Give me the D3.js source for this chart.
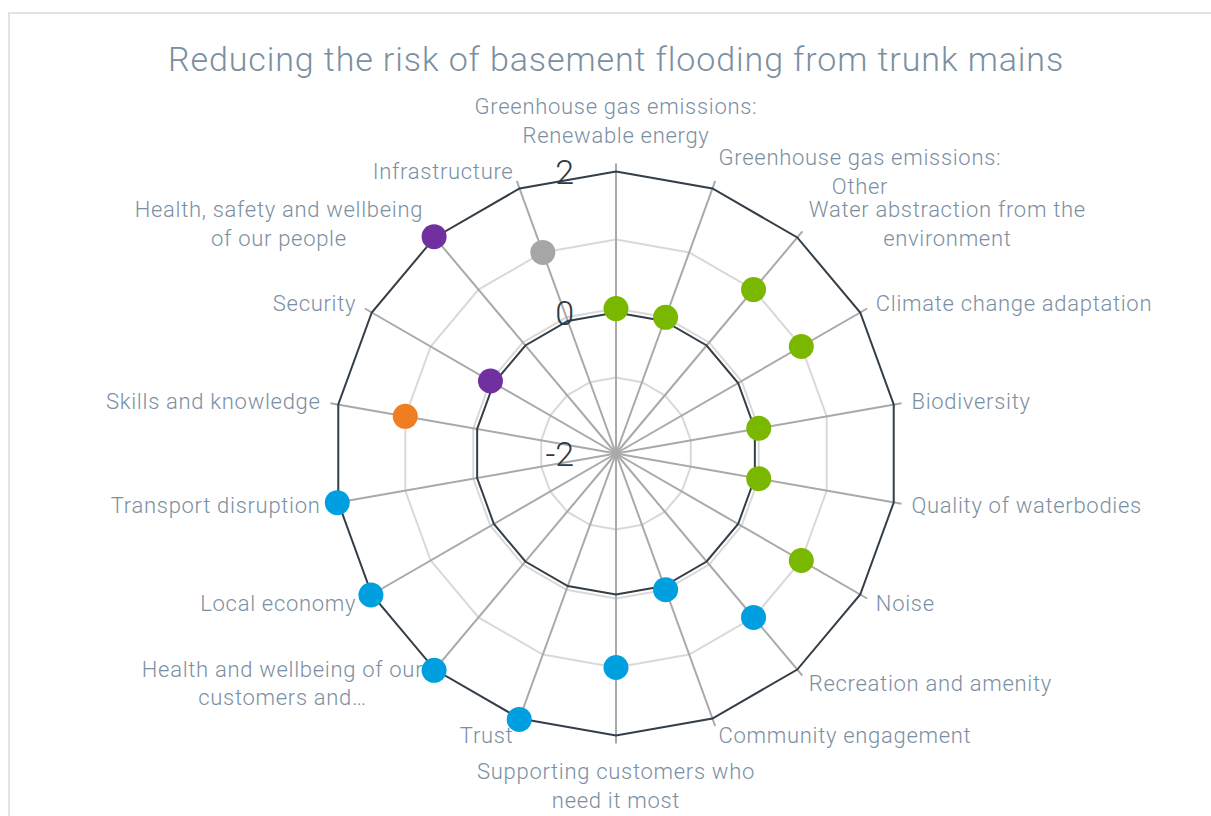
<!DOCTYPE html>
<html>
<head>
<meta charset="utf-8">
<script src="https://cdn.jsdelivr.net/npm/d3@7"></script>
<style>
  html, body { margin: 0; padding: 0; background: #ffffff; }
  svg { display: block; font-family: Roboto, "Liberation Sans", sans-serif; }
</style>
</head>
<body>
<svg id="chart" width="1211" height="816"></svg>
<script>
// Category labels, clockwise from the top (already wrapped into lines)
const categories = [
  ["Greenhouse gas emissions:", "Renewable energy"],
  ["Greenhouse gas emissions:", "Other"],
  ["Water abstraction from the", "environment"],
  ["Climate change adaptation"],
  ["Biodiversity"],
  ["Quality of waterbodies"],
  ["Noise"],
  ["Recreation and amenity"],
  ["Community engagement"],
  ["Supporting customers who", "need it most"],
  ["Trust"],
  ["Health and wellbeing of our", "customers and…"],
  ["Local economy"],
  ["Transport disruption"],
  ["Skills and knowledge"],
  ["Security"],
  ["Health, safety and wellbeing", "of our people"],
  ["Infrastructure"]
];

// Score for each category (-2 .. 2)
const scores = [0, 0, 1, 1, 0, 0, 1, 1, 0, 1, 2, 2, 2, 2, 1, 0, 2, 1];

// Capital group of each category (sets the marker colour)
const capitals = [
  "Natural", "Natural", "Natural", "Natural", "Natural", "Natural", "Natural",
  "Social", "Social", "Social", "Social", "Social", "Social", "Social",
  "Intellectual", "Human", "Human", "Manufactured"
];
const capitalNames = ["Natural", "Social", "Intellectual", "Human", "Manufactured"];
const capitalColors = ["#7ab800", "#009fdf", "#ef7d22", "#7030a0", "#a6a6a6"];

// Radial axis ticks
const tickValues = [-2, 0, 2];
const tickLabels = ["-2", "0", "2"];
// Score levels marked with light rings
const scoreLevels = [-1, 0, 1];

const svg = d3.select("#chart");
const W = 1211, H = 816;
const cx = 616, cy = 453.5, R = 282;
const n = categories.length;

const angle = d3.scaleLinear().domain([0, n]).range([0, 2 * Math.PI]);
const rAxis = d3.scaleLinear().domain([-2, 2]).range([0, R]);
const rScore = d3.scaleLinear().domain([-2.1, 2]).range([0, R + 1]);
const color = d3.scaleOrdinal().domain(capitalNames).range(capitalColors);

// Frame
svg.append("rect")
  .attr("x", 9).attr("y", 13)
  .attr("width", W + 20).attr("height", H + 20)
  .attr("fill", "none")
  .attr("stroke", "#dfe4e9")
  .attr("stroke-width", 2);

// Title
svg.append("text")
  .attr("x", cx).attr("y", 71)
  .attr("text-anchor", "middle")
  .attr("font-size", 34)
  .attr("font-weight", 300)
  .attr("letter-spacing", 0.9)
  .attr("fill", "#7b8fa2")
  .text("Reducing the risk of basement flooding from trunk mains");

const g = svg.append("g").attr("transform", `translate(${cx},${cy})`);

const ring = (rad) => d3.lineRadial()
  .angle((d, i) => angle(i))
  .radius(() => rad)
  .curve(d3.curveLinearClosed)(d3.range(n));

// Light rings at score levels
g.selectAll("path.level")
  .data(scoreLevels)
  .join("path")
  .attr("class", "level")
  .attr("d", d => ring(rScore(d)))
  .attr("fill", "none")
  .attr("stroke", "#d9d9d9")
  .attr("stroke-width", 2);

// Spokes
g.selectAll("line.spoke")
  .data(d3.range(n))
  .join("line")
  .attr("class", "spoke")
  .attr("x1", 0).attr("y1", 0)
  .attr("x2", i => Math.sin(angle(i)) * (R + 8))
  .attr("y2", i => -Math.cos(angle(i)) * (R + 8))
  .attr("stroke", "#a9a9a9")
  .attr("stroke-width", 2);

// Dark rings at axis ticks
g.selectAll("path.tick")
  .data(tickValues.filter(v => v > -2))
  .join("path")
  .attr("class", "tick")
  .attr("d", d => ring(rAxis(d)))
  .attr("fill", "none")
  .attr("stroke", "#333e48")
  .attr("stroke-width", 2);

// Axis tick labels along the top spoke
g.selectAll("text.tick-label")
  .data(tickValues)
  .join("text")
  .attr("class", "tick-label")
  .attr("x", -42)
  .attr("y", d => -rAxis(d))
  .attr("dy", "0.36em")
  .attr("text-anchor", "end")
  .attr("font-size", 34)
  .attr("font-weight", 300)
  .attr("fill", "#2e3a44")
  .text((d, i) => tickLabels[i]);

// Category labels
const LR = R + 18, lineH = 28.5;
categories.forEach((lines, i) => {
  const a = angle(i);
  const deg = Math.round(a * 180 / Math.PI) % 360;
  const lx = Math.sin(a) * LR, ly = -Math.cos(a) * LR;
  const t = g.append("text")
    .attr("font-size", 22)
    .attr("font-weight", 300)
    .attr("letter-spacing", 0.7)
    .attr("fill", "#7b8fa2")
    .attr("text-anchor", "middle");
  const spans = lines.map(s => t.append("tspan").text(s));
  const w = d3.max(spans, s => s.node().getComputedTextLength());
  let bx = lx;
  if (deg > 0 && deg < 180) bx = lx + w / 2;
  else if (deg > 180) bx = lx - w / 2;
  let y0;
  if (deg === 0) y0 = ly - 4 - lineH / 2 - (lines.length - 1) * lineH;
  else if (deg === 180) y0 = ly + 4 + lineH / 2;
  else y0 = ly - (lines.length - 1) * lineH / 2;
  spans.forEach((s, k) => s.attr("x", bx).attr("y", y0 + k * lineH).attr("dy", "0.35em"));
});

// Score markers
g.selectAll("circle.score")
  .data(scores)
  .join("circle")
  .attr("class", "score")
  .attr("cx", (d, i) => Math.sin(angle(i)) * rScore(d))
  .attr("cy", (d, i) => -Math.cos(angle(i)) * rScore(d))
  .attr("r", 12.5)
  .attr("fill", (d, i) => color(capitals[i]));
</script>
</body>
</html>
